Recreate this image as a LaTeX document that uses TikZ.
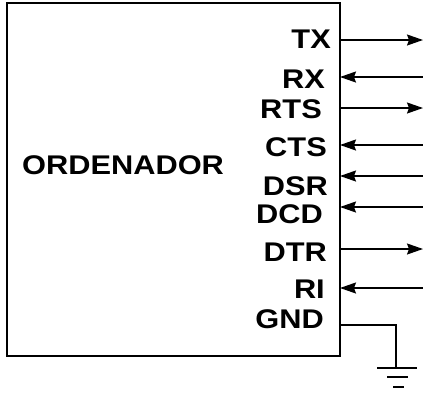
\documentclass[tikz,border=0pt]{standalone}
\usepackage{fontspec}
\setmainfont{Liberation Sans}[FakeStretch=1.14]
\usetikzlibrary{arrows.meta}
\begin{document}
\begin{tikzpicture}[x=1pt,y=-1pt,
  lbl/.style={anchor=east,inner sep=0pt,font=\fontsize{27}{27}\selectfont\bfseries},
  sig/.style={line width=1.5pt},
  tipr/.style={-{Stealth[length=16pt,width=11pt,inset=2pt]}},
  gline/.style={line width=1.5pt}]
\useasboundingbox (0,0) rectangle (423,392);
\node[draw, line width=1.5pt, inner sep=0pt, outer sep=0pt, minimum width=333pt, minimum height=353pt, anchor=north west] (pc) at (7,3) {};
\node[lbl, anchor=west] (ord) at (22,165) {ORDENADOR};
\node[lbl] (tx)  at (331,39.5) {TX};
\node[lbl] (rx)  at (325,79) {RX};
\node[lbl] (rts) at (322,109) {RTS};
\node[lbl] (cts) at (327,147) {CTS};
\node[lbl] (dsr) at (328,186) {DSR};
\node[lbl] (dcd) at (323,214.5) {DCD};
\node[lbl] (dtr) at (327,252) {DTR};
\node[lbl] (ri)  at (325,289) {RI};
\node[lbl] (gnd) at (324,319) {GND};
\coordinate (txe) at (423,40);
\coordinate (rxe) at (423,77);
\coordinate (rtse) at (423,108);
\coordinate (ctse) at (423,145);
\coordinate (dsre) at (423,176);
\coordinate (dcde) at (423,207);
\coordinate (dtre) at (423,249);
\coordinate (rie) at (423,288);
\coordinate (gndc) at (396,325);
\coordinate (gr) at (396,368);
\draw[sig,tipr] (txe -| pc.east) -- (txe);
\draw[sig,tipr] (rxe) -- (rxe -| pc.east);
\draw[sig,tipr] (rtse -| pc.east) -- (rtse);
\draw[sig,tipr] (ctse) -- (ctse -| pc.east);
\draw[sig,tipr] (dsre) -- (dsre -| pc.east);
\draw[sig,tipr] (dcde) -- (dcde -| pc.east);
\draw[sig,tipr] (dtre -| pc.east) -- (dtre);
\draw[sig,tipr] (rie) -- (rie -| pc.east);
\draw[sig] (gndc -| pc.east) -- (gndc) -- (gr);
\draw[gline] ([xshift=-19pt]gr) -- ([xshift=21pt]gr);
\draw[gline] ([xshift=-9pt,yshift=-9pt]gr) -- ([xshift=12pt,yshift=-9pt]gr);
\draw[gline] ([xshift=-3pt,yshift=-19pt]gr) -- ([xshift=8pt,yshift=-19pt]gr);
\end{tikzpicture}
\end{document}
